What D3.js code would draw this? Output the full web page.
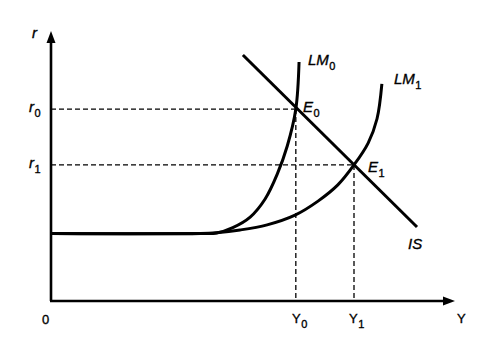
<!DOCTYPE html>
<html>
<head>
<meta charset="utf-8">
<script src="https://cdn.jsdelivr.net/npm/d3@7"></script>
<style>
  body { margin: 0; background: #fff; }
  svg text { font-family: "Liberation Sans", Arial, sans-serif; fill: #000; stroke: #000; stroke-width: 0.35px; }
</style>
</head>
<body>
<div id="graf"></div>
<script>
// vrijednosti procitane sa slike (jedinice osi 0-10)
const flatR = 2.5;
const r0 = 7.11, r1 = 5.04;
const Y0 = 6.06, Y1 = 7.5;

const lm0 = [[0, 2.5], [3.7, 2.5], [4.1, 2.52], [4.5, 2.72], [4.93, 3.11], [5.3, 3.78], [5.6, 4.7], [5.85, 5.75], [6.06, 7.11], [6.14, 8.85]];
const lm1 = [[0, 2.5], [3.7, 2.5], [4.1, 2.53], [4.68, 2.63], [5.35, 2.82], [6.04, 3.18], [6.61, 3.7], [7.1, 4.3], [7.5, 5.04], [7.85, 5.85], [8.07, 6.75], [8.19, 8.04]];
const isLine = [[4.75, 9.11], [9.06, 2.74]];

const sirina = 496, visina = 351;
const x = d3.scaleLinear().domain([0, 10]).range([51, 455]);
const y = d3.scaleLinear().domain([0, 10]).range([301, 31]);

const svg = d3.select("#graf")
    .append("svg")
    .attr("width", sirina)
    .attr("height", visina);

// isprekidane linije
const dashed = [
    [[0, r0], [Y0, r0]], [[Y0, r0], [Y0, 0]],
    [[0, r1], [Y1, r1]], [[Y1, r1], [Y1, 0]]
];
svg.selectAll(".dash")
    .data(dashed)
    .enter()
    .append("line")
    .attr("x1", d => x(d[0][0])).attr("y1", d => y(d[0][1]))
    .attr("x2", d => x(d[1][0])).attr("y2", d => y(d[1][1]))
    .attr("stroke", "#000")
    .attr("stroke-width", 1.3)
    .attr("stroke-dasharray", "5,3");

// osi
svg.append("line")
    .attr("x1", x(0)).attr("y1", y(0))
    .attr("x2", x(0)).attr("y2", y(10) + 10)
    .attr("stroke", "#000").attr("stroke-width", 2.6);
svg.append("line")
    .attr("x1", x(0) - 1).attr("y1", y(0))
    .attr("x2", x(10) - 10).attr("y2", y(0))
    .attr("stroke", "#000").attr("stroke-width", 2.6);
svg.append("path")
    .attr("d", `M${x(0)},${y(10)} L${x(0) - 4.5},${y(10) + 12} L${x(0) + 4.5},${y(10) + 12} Z`)
    .attr("fill", "#000");
svg.append("path")
    .attr("d", `M${x(10)},${y(0)} L${x(10) - 12},${y(0) - 4.5} L${x(10) - 12},${y(0) + 4.5} Z`)
    .attr("fill", "#000");

// krivulje
const linija = d3.line()
    .x(d => x(d[0]))
    .y(d => y(d[1]))
    .curve(d3.curveCatmullRom.alpha(0.5));

svg.selectAll(".krivulja")
    .data([lm0, lm1, isLine])
    .enter()
    .append("path")
    .attr("d", linija)
    .attr("fill", "none")
    .attr("stroke", "#000")
    .attr("stroke-width", 3)
    .attr("stroke-linecap", "butt");

// oznake: [tekst, indeks, x, y, italic, velicina]
const oznake = [
    ["r", "", 32, 38, true, 15],
    ["r", "0", 29, 112, true, 15],
    ["r", "1", 29, 168, true, 15],
    ["0", "", 42, 324, false, 13],
    ["Y", "0", 292, 323, false, 13],
    ["Y", "1", 349, 323, false, 13],
    ["Y", "", 457, 323, false, 13],
    ["LM", "0", 308, 65, true, 15],
    ["LM", "1", 394, 84, true, 15],
    ["E", "0", 303, 112, true, 15],
    ["E", "1", 368, 172, true, 15],
    ["IS", "", 408, 249, true, 15]
];

const t = svg.selectAll(".oznaka")
    .data(oznake)
    .enter()
    .append("text")
    .attr("x", d => d[2])
    .attr("y", d => d[3])
    .style("font-size", d => d[5] + "px");

t.append("tspan")
    .style("font-style", d => d[4] ? "italic" : "normal")
    .text(d => d[0]);
t.filter(d => d[1] !== "")
    .append("tspan")
    .attr("dy", 5)
    .attr("dx", 0.5)
    .style("font-size", "11px")
    .text(d => d[1]);
</script>
</body>
</html>
